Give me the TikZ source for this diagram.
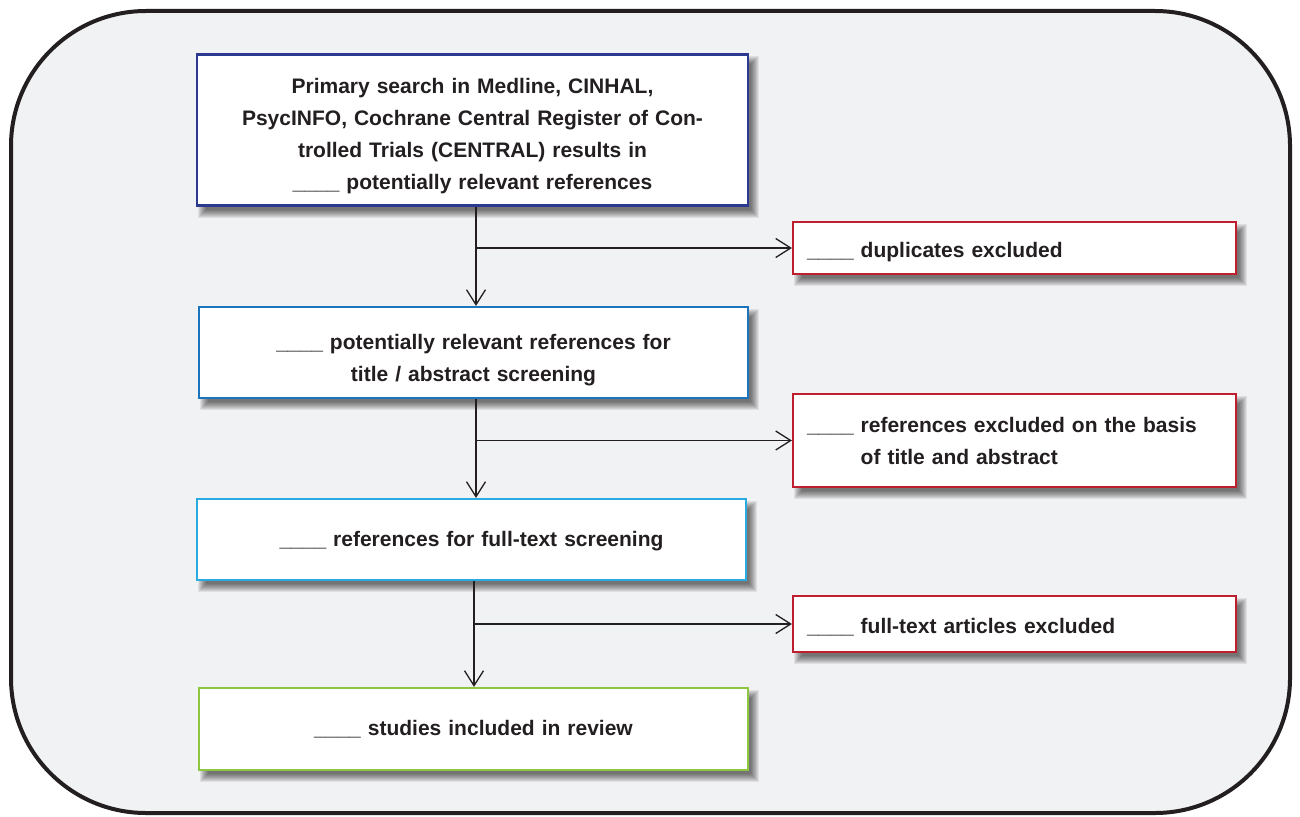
\documentclass[tikz,border=0pt]{standalone}
\usepackage{fontspec}
\setmainfont{Liberation Sans}
\usetikzlibrary{arrows.meta}
\definecolor{bgc}{HTML}{F1F2F4}
\definecolor{txt}{HTML}{231F20}
\definecolor{navy}{HTML}{2B3990}
\definecolor{midblue}{HTML}{1C75BC}
\definecolor{lightblue}{HTML}{29ABE2}
\definecolor{grn}{HTML}{8DC63F}
\definecolor{redc}{HTML}{BE1E2D}
\pgfdeclarelayer{backlayer}
\pgfdeclarelayer{shadowlayer}
\pgfsetlayers{backlayer,shadowlayer,main}
\newcommand\boxshadow[1]{%
  \begin{pgfonlayer}{shadowlayer}
  \foreach \k in {0,...,8}{%
    \fill[black, opacity=0.075] ([shift={(2+\k,3+\k)}]#1.north west) rectangle ([shift={(10-\k,11-\k)}]#1.south east);
  }
  \end{pgfonlayer}}
\begin{document}
\begin{tikzpicture}[x=1pt,y=-1pt,
  box/.style={draw, line width=2.2pt, fill=white, inner sep=0pt},
  lbl/.style={inner sep=0pt, text=txt, font=\fontsize{21}{32}\selectfont\bfseries},
  mainlbl/.style={lbl, align=center, text width=530pt},
  sidelbl/.style={lbl, align=left, text width=415pt},
  sidebox/.style={box, draw=redc, minimum width=443pt},
  arr/.style={line width=1.3pt, draw=txt, -{Straight Barb[length=15pt, width=19pt, line width=1.3pt]}}
]
\useasboundingbox (0,0) rectangle (1300,816);
\begin{pgfonlayer}{backlayer}
\draw[line width=4pt, draw=txt, fill=bgc, rounded corners=135pt] (11,11) rectangle (1290,813);
\end{pgfonlayer}

\node[box, draw=navy, minimum width=551pt, minimum height=151pt,
  label={[mainlbl, anchor=center, yshift=-6pt]center:{Primary search in Medline, CINHAL,\\PsycINFO, Cochrane Central Register of Con-\\trolled Trials (CENTRAL) results in\\\_\_\_\_ potentially relevant references}}] (top) at (472.5,130) {};
\node[box, draw=midblue, minimum width=549pt, minimum height=91pt,
  label={[mainlbl, anchor=center, yshift=-8pt]center:{\_\_\_\_ potentially relevant references for\\title / abstract screening}}] (b2) at (473.5,352.5) {};
\node[box, draw=lightblue, minimum width=549pt, minimum height=81pt,
  label={[mainlbl, anchor=center, yshift=-2pt]center:{\_\_\_\_ references for full-text screening}}] (b3) at (471.5,539.5) {};
\node[box, draw=grn, minimum width=549pt, minimum height=82pt,
  label={[mainlbl, anchor=center]center:{\_\_\_\_ studies included in review}}] (b4) at (473.5,729) {};

\node[sidebox, minimum height=52pt,
  label={[sidelbl, anchor=center, yshift=-4pt]center:{\_\_\_\_ duplicates excluded}}] (r1) at (1014.5,248) {};
\node[sidebox, minimum height=93pt,
  label={[sidelbl, anchor=center]center:{\_\_\_\_ references excluded on the basis\\\hphantom{\_\_\_\_ }of title and abstract}}] (r2) at (1014.5,440.5) {};
\node[sidebox, minimum height=56pt,
  label={[sidelbl, anchor=center, yshift=-3pt]center:{\_\_\_\_ full-text articles excluded}}] (r3) at (1014.5,624) {};

\boxshadow{top}\boxshadow{b2}\boxshadow{b3}\boxshadow{b4}
\boxshadow{r1}\boxshadow{r2}\boxshadow{r3}

\coordinate (s1) at (476,248);
\coordinate (s2) at (476,440.5);
\coordinate (s3) at (474,624);

\draw[arr] (top.south -| s1) -- (b2.north -| s1);
\draw[arr] (s1) -- (r1.west);
\draw[arr] (b2.south -| s2) -- (b3.north -| s2);
\draw[arr] (s2) -- (r2.west);
\draw[arr] (b3.south -| s3) -- (b4.north -| s3);
\draw[arr] (s3) -- (r3.west);
\end{tikzpicture}
\end{document}
